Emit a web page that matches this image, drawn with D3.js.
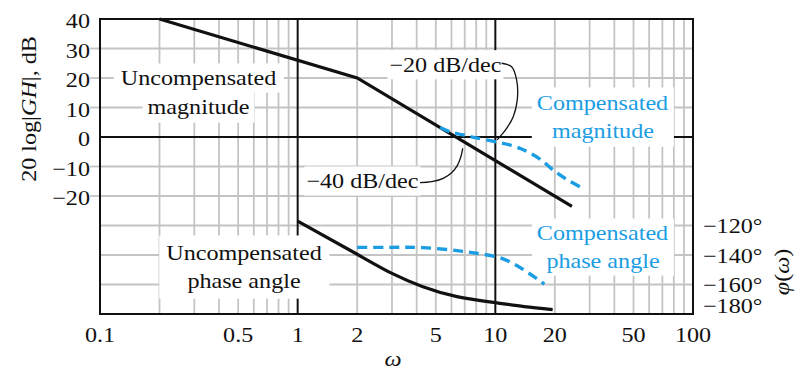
<!DOCTYPE html>
<html><head><meta charset="utf-8">
<script src="https://cdn.jsdelivr.net/npm/d3@7"></script>
<style>
body{margin:0;background:#fff}
svg{display:block}
text{font-family:"Liberation Serif","Times New Roman",serif;font-size:21px;fill:#111}
</style>
</head><body>
<svg id="c" width="803" height="373"></svg>
<script>
// ---- data ----
const magTicks = [40, 30, 20, 10, 0, -10, -20];
const phaseTicks = [-120, -140, -160, -180];
const omegaTicks = [0.1, 0.5, 1, 2, 5, 10, 20, 50, 100];
const omegaTickLabels = ["0.1", "0.5", "1", "2", "5", "10", "20", "50", "100"];

const uncompMagOmega = [0.2, 2, 24.4];
const uncompMagDb = [40, 20, -23.5];

const compMagOmega = [5.25, 6, 7, 8, 10, 12, 13.5, 15, 17, 19.6, 23, 27.7];
const compMagDb = [3.2, 1.6, 0.6, -0.3, -1.6, -2.8, -4, -5.5, -7.7, -11.2, -14.4, -17.4];

const uncompPhaseOmega = [1, 2, 3, 4.3, 6.4, 10, 14, 19.5];
const uncompPhaseDeg = [-117, -139.5, -152.5, -161.5, -168.2, -172.3, -175, -177];

const compPhaseOmega = [2, 3, 4.3, 6.4, 8, 10, 12, 13.9, 16, 17.7];
const compPhaseDeg = [-134.8, -134.8, -135, -137, -138.8, -141, -145, -150, -155.5, -159.7];

// leader curves for slope annotations (omega, dB)
const lead20Omega = [10.76, 12.09, 12.82, 12.91, 12.32, 11.41, 10.55, 10.22];
const lead20Db = [25.0, 23.8, 19.3, 12.5, 6.9, 2.95, 0.1, -1.0];
const lead40Omega = [4.16, 4.76, 5.45, 6.01, 6.42, 6.68, 6.84];
const lead40Db = [-15.5, -15.15, -14.0, -12.1, -9.73, -6.88, -3.83];

// ---- chart ----
const BLUE = "#1a9de2";
const GRID = "#c4c4c4";
const SX = 1.15;
const svg = d3.select("#c");
const L = 100, R = 693, T = 19, B = 314;
const x = d3.scaleLog().domain([0.1, 100]).range([L, R]);
const yMag = d3.scaleLinear().domain([40, -60]).range([T, B]);
const yPh = d3.scaleLinear().domain([20, -180]).range([T, B]);

const gGrid = svg.append("g");
const gBox = svg.append("g");
const gCurve = svg.append("g");
const gText = svg.append("g");

// vertical grid
const vLines = [];
[0.1, 1, 10].forEach(d => { for (let k = 1; k <= 9; k++) vLines.push(+(k * d).toPrecision(3)); });
const vGrid = vLines.filter(v => v > 0.1 && v < 100);
gGrid.selectAll("line.v").data(vGrid.filter(v => v !== 1 && v !== 10)).join("line")
  .attr("x1", d => x(d)).attr("x2", d => x(d)).attr("y1", T).attr("y2", B)
  .attr("stroke", GRID).attr("stroke-width", 1.8);
// horizontal grid (every 10 dB)
const hGrid = d3.range(30, -60, -10);
gGrid.selectAll("line.h").data(hGrid.filter(v => v !== 0)).join("line")
  .attr("x1", L).attr("x2", R).attr("y1", d => yMag(d)).attr("y2", d => yMag(d))
  .attr("stroke", GRID).attr("stroke-width", 1.8);
// outward left tick stubs
gGrid.selectAll("line.t").data(magTicks.filter(v => v !== 40 && v !== 0)).join("line")
  .attr("x1", L - 10).attr("x2", L).attr("y1", d => yMag(d)).attr("y2", d => yMag(d))
  .attr("stroke", GRID).attr("stroke-width", 1.8);
// dark reference lines
gGrid.selectAll("line.k").data([1, 10]).join("line")
  .attr("x1", d => x(d)).attr("x2", d => x(d)).attr("y1", T).attr("y2", B)
  .attr("stroke", "#111").attr("stroke-width", 2);
gGrid.append("line").attr("x1", L).attr("x2", R).attr("y1", yMag(0)).attr("y2", yMag(0))
  .attr("stroke", "#111").attr("stroke-width", 2);

// text helper
function label(parent, px, py, parts, anchor, color, rot) {
  const g = parent.append("g")
    .attr("transform", `translate(${px},${py})` + (rot ? ` rotate(${rot})` : "") + ` scale(${SX},1)`);
  const t = g.append("text").attr("text-anchor", anchor || "start");
  if (color) t.style("fill", color);
  (Array.isArray(parts) ? parts : [[parts]]).forEach(p => {
    const s = t.append("tspan").text(p[0]);
    if (p[1]) s.style("font-style", "italic");
  });
  return t;
}

// axis tick labels
magTicks.forEach(v => label(gText, L - 10, yMag(v) + 9, v < 0 ? "\u2212" + Math.abs(v) : String(v), "end"));
phaseTicks.forEach(v => label(gText, R + 10, Math.min(yPh(v) + 7.5, B - 1), "\u2212" + Math.abs(v) + "\u00b0", "start"));
omegaTicks.forEach((v, i) => label(gText, x(v), 342, omegaTickLabels[i], "middle"));

// axis titles
label(gText, 36, 109, [["20 log|"], ["GH", 1], ["|, dB"]], "middle", null, -90);
label(gText, 789, 272, [["\u03c6", 1], ["("], ["\u03c9", 1], [")"]], "middle", null, -90);
label(gText, 393, 366, [["\u03c9", 1]], "middle");

// annotations
function boxFor(texts, px, py) {
  const rects = texts.map(t => t.node().getBoundingClientRect());
  const x0 = d3.min(rects, r => r.left) - px, x1 = d3.max(rects, r => r.right) + px;
  const y0 = d3.min(rects, r => r.top) - py, y1 = d3.max(rects, r => r.bottom) + py;
  gBox.append("rect").attr("x", x0).attr("y", y0).attr("width", x1 - x0).attr("height", y1 - y0).attr("fill", "#fff");
}
const um1 = label(gText, 198.5, 85, "Uncompensated", "middle");
const um2 = label(gText, 198.5, 114, "magnitude", "middle");
boxFor([um1], 7, 3); boxFor([um2], 5, 4);

const up1 = label(gText, 244, 260, "Uncompensated", "middle");
const up2 = label(gText, 244, 288, "phase angle", "middle");
boxFor([up1, up2], 7, 6);

const cm1 = label(gText, 602.5, 110, "Compensated", "middle", BLUE);
const cm2 = label(gText, 603, 138, "magnitude", "middle", BLUE);
boxFor([cm1, cm2], 5, 4);

const cp1 = label(gText, 602.5, 240, "Compensated", "middle", BLUE);
const cp2 = label(gText, 603, 268, "phase angle", "middle", BLUE);
boxFor([cp1, cp2], 5, 3);

const s20 = label(gText, 501.5, 71.7, "\u221220 dB/dec", "end");
boxFor([s20], 2, 3);
const s40 = label(gText, 418.5, 188, "\u221240 dB/dec", "end");
boxFor([s40], 2, 3);

// curves
const zip = (a, b) => a.map((v, i) => [v, b[i]]);
const lineMag = d3.line().x(d => x(d[0])).y(d => yMag(d[1]));
const smoothMag = d3.line().x(d => x(d[0])).y(d => yMag(d[1])).curve(d3.curveCatmullRom.alpha(0.5));
const smoothPh = d3.line().x(d => x(d[0])).y(d => yPh(d[1])).curve(d3.curveNatural);

gCurve.append("path").attr("d", lineMag(zip(uncompMagOmega, uncompMagDb)))
  .attr("fill", "none").attr("stroke", "#111").attr("stroke-width", 3.2);
gCurve.append("path").attr("d", smoothMag(zip(compMagOmega, compMagDb)))
  .attr("fill", "none").attr("stroke", BLUE).attr("stroke-width", 3.4).attr("stroke-dasharray", "10,6");
gCurve.append("path").attr("d", smoothPh(zip(uncompPhaseOmega, uncompPhaseDeg)))
  .attr("fill", "none").attr("stroke", "#111").attr("stroke-width", 3.2);
gCurve.append("path").attr("d", smoothPh(zip(compPhaseOmega, compPhaseDeg)))
  .attr("fill", "none").attr("stroke", BLUE).attr("stroke-width", 3.4).attr("stroke-dasharray", "10,6");

const leader = d3.line().x(d => x(d[0])).y(d => yMag(d[1])).curve(d3.curveCatmullRom);
gCurve.append("path").attr("d", leader(zip(lead20Omega, lead20Db)))
  .attr("fill", "none").attr("stroke", "#111").attr("stroke-width", 1.3);
gCurve.append("path").attr("d", leader(zip(lead40Omega, lead40Db)))
  .attr("fill", "none").attr("stroke", "#111").attr("stroke-width", 1.3);

// frame
svg.append("rect").attr("x", L).attr("y", T).attr("width", R - L).attr("height", B - T)
  .attr("fill", "none").attr("stroke", "#111").attr("stroke-width", 2);
</script>
</body></html>
